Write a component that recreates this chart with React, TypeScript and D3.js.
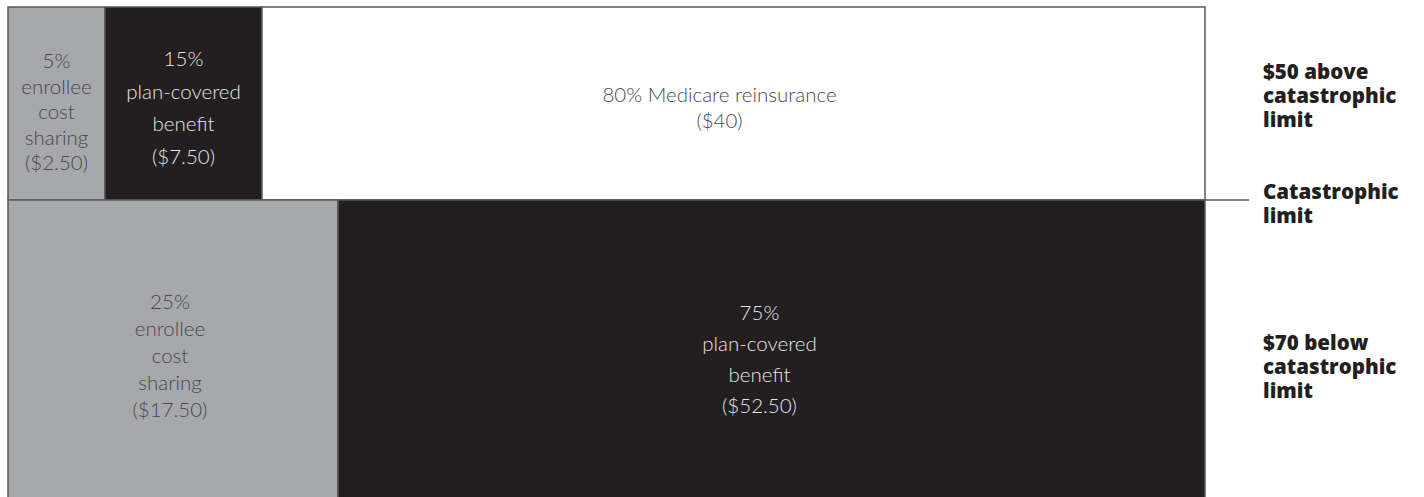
import React from "react";
import * as d3 from "d3";

// ---- data ----
const rowNames = ["above", "below"];
const rowAmounts = [50, 70]; // dollars
const topShares = [5, 15, 80];
const bottomShares = [25, 75];
const topKinds = ["enrollee", "plan", "medicare"];
const bottomKinds = ["enrollee", "plan"];
const topLabels = [
  ["5%", "enrollee", "cost", "sharing", "($2.50)"],
  ["15%", "plan-covered", "benefit", "($7.50)"],
  ["80% Medicare reinsurance", "($40)"],
];
const bottomLabels = [
  ["25%", "enrollee", "cost", "sharing", "($17.50)"],
  ["75%", "plan-covered", "benefit", "($52.50)"],
];
const sideLabels = [
  ["$50 above", "catastrophic", "limit"],
  ["Catastrophic", "limit"],
  ["$70 below", "catastrophic", "limit"],
];

const fill: Record<string, string> = {
  enrollee: "#a7a8ab",
  plan: "#231f20",
  medicare: "#ffffff",
};
const textFill: Record<string, string> = {
  enrollee: "#48474a",
  plan: "#e4e4e4",
  medicare: "#4a4a4a",
};

const W = 1424;
const H = 497;

export default function App() {
  // vertical: dollar amounts stacked (piecewise to match drawing)
  const y = d3
    .scaleLinear()
    .domain([0, rowAmounts[0], rowAmounts[0] + rowAmounts[1]])
    .range([7, 200, 505]);

  const cum = (arr: number[]) => {
    const out = [0];
    arr.forEach((v) => out.push(out[out.length - 1] + v));
    return out;
  };
  const topCum = cum(topShares);
  const botCum = cum(bottomShares);
  const xTop = d3.scaleLinear().domain(topCum).range([8, 105, 262, 1205]);
  const xBot = d3.scaleLinear().domain(botCum).range([8, 338, 1205]);

  const font = "Lato, 'Open Sans', sans-serif";
  const boldFont = "'Open Sans', Lato, sans-serif";

  const topLayout = [
    { dy: 61, lh: 25.5, dx: 0 },
    { dy: 59, lh: 32.5, dx: 0 },
    { dy: 95, lh: 26, dx: -14 },
  ];
  const botLayout = [
    { dy: 109, lh: 27, dx: -3 },
    { dy: 120, lh: 31, dx: -12 },
  ];

  const rows = [
    { cum: topCum, x: xTop, kinds: topKinds, labels: topLabels, layout: topLayout, y0: y(0), y1: y(rowAmounts[0]) },
    {
      cum: botCum,
      x: xBot,
      kinds: bottomKinds,
      labels: bottomLabels,
      layout: botLayout,
      y0: y(rowAmounts[0]),
      y1: y(rowAmounts[0] + rowAmounts[1]),
    },
  ];

  const sideY = [79, 199, 350];

  return (
    <svg width={W} height={H} style={{ position: "absolute", left: 0, top: 0, display: "block" }}>
      <rect x={0} y={0} width={W} height={H} fill="#fff" />
      {rows.map((r, ri) => (
        <g key={rowNames[ri]}>
          {r.kinds.map((k, i) => {
            const x0 = r.x(r.cum[i]);
            const x1 = r.x(r.cum[i + 1]);
            return (
              <rect
                key={i}
                x={x0}
                y={r.y0}
                width={x1 - x0}
                height={r.y1 - r.y0}
                fill={fill[k]}
                stroke="#58595b"
                strokeWidth={1.5}
              />
            );
          })}
          {r.kinds.map((k, i) => {
            const cx = (r.x(r.cum[i]) + r.x(r.cum[i + 1])) / 2 + r.layout[i].dx;
            return (
              <text
                key={"t" + i}
                textAnchor="middle"
                fontFamily={font}
                fontWeight={300}
                fontSize={20.5}
                fill={textFill[k]}
              >
                {r.labels[i].map((ln, j) => (
                  <tspan key={j} x={cx} y={r.y0 + r.layout[i].dy + j * r.layout[i].lh}>
                    {ln}
                  </tspan>
                ))}
              </text>
            );
          })}
        </g>
      ))}
      <line x1={1205} x2={1249} y1={y(rowAmounts[0])} y2={y(rowAmounts[0])} stroke="#58595b" strokeWidth={1.5} />
      {sideLabels.map((lines, i) => (
        <text key={i} fontFamily={boldFont} fontWeight={800} fontSize={20.5} fill="#231f20">
          {lines.map((ln, j) => (
            <tspan key={j} x={1263} y={sideY[i] + j * 24}>
              {ln}
            </tspan>
          ))}
        </text>
      ))}
    </svg>
  );
}
